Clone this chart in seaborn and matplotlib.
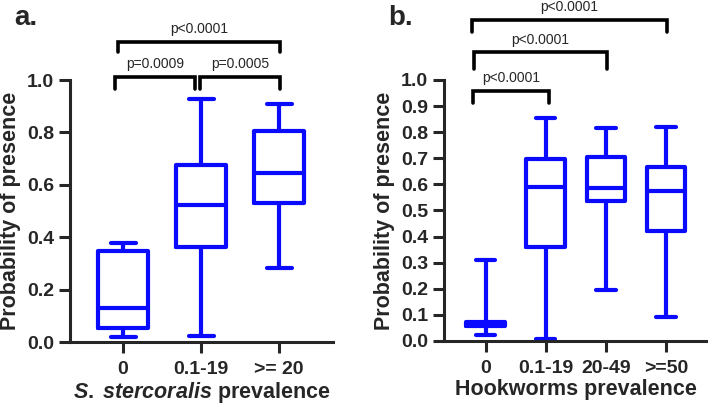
import matplotlib
matplotlib.use("Agg")
import matplotlib.pyplot as plt
import pandas as pd
import seaborn as sns

# summary values (min, q1, median, q3, max per group)
a_groups = ["0", "0.1-19", ">= 20"]
a_min = [0.018, 0.023, 0.281]
a_q1 = [0.055, 0.364, 0.530]
a_median = [0.128, 0.524, 0.644]
a_q3 = [0.347, 0.674, 0.806]
a_max = [0.379, 0.926, 0.908]

b_groups = ["0", "0.1-19", "20-49", ">=50"]
b_min = [0.024, 0.008, 0.195, 0.091]
b_q1 = [0.058, 0.359, 0.537, 0.423]
b_median = [0.065, 0.589, 0.585, 0.576]
b_q3 = [0.072, 0.698, 0.706, 0.668]
b_max = [0.310, 0.855, 0.817, 0.821]

a_pvalues = ["p=0.0009", "p=0.0005", "p<0.0001"]
b_pvalues = ["p<0.0001", "p<0.0001", "p<0.0001"]

BLUE = "#0a0aff"


def to_long(groups, mins, q1s, meds, q3s, maxs):
    # five points per group reproduce the quartiles exactly with whis=(0, 100)
    rows = []
    for g, lo, q1, m, q3, hi in zip(groups, mins, q1s, meds, q3s, maxs):
        for v in (lo, q1, m, q3, hi):
            rows.append({"group": g, "value": v})
    return pd.DataFrame(rows)


def bracket(ax, x0, x1, y, h, text):
    ax.plot([x0, x0, x1, x1], [y - h, y, y, y - h], color="black",
            lw=2.6, clip_on=False, solid_joinstyle="miter")
    ax.text((x0 + x1) / 2, y + 0.022, text, ha="center", va="bottom",
            fontsize=10, clip_on=False)


def style_axes(ax, ylabel, xlabel):
    for s in ["top", "right"]:
        ax.spines[s].set_visible(False)
    for s in ["left", "bottom"]:
        ax.spines[s].set_linewidth(2.2)
    ax.tick_params(axis="both", direction="out", length=8, width=2.2,
                   labelsize=14)
    ax.tick_params(axis="x", pad=6)
    for lab in ax.get_xticklabels() + ax.get_yticklabels():
        lab.set_fontweight("bold")
    ax.set_ylabel(ylabel, fontsize=15.5, fontweight="bold", labelpad=4)
    ax.set_xlabel(xlabel, fontsize=15.5, fontweight="bold", labelpad=1)


sns.set_style("ticks")
plt.rcParams["font.family"] = ["Liberation Sans", "DejaVu Sans"]
plt.rcParams["mathtext.fontset"] = "custom"
plt.rcParams["mathtext.it"] = "Liberation Sans:italic:bold"
plt.rcParams["mathtext.rm"] = "Liberation Sans:bold"

fig = plt.figure(figsize=(7.08, 4.07), dpi=100)
ax1 = fig.add_axes([0.0989, 0.1597, 0.3715, 0.6437])
ax2 = fig.add_axes([0.6271, 0.1622, 0.3715, 0.6413])

df_a = to_long(a_groups, a_min, a_q1, a_median, a_q3, a_max)
df_b = to_long(b_groups, b_min, b_q1, b_median, b_q3, b_max)

sns.boxplot(data=df_a, x="group", y="value", order=a_groups, whis=(0, 100),
            fill=False, color=BLUE, linewidth=3, width=0.64, ax=ax1)
sns.boxplot(data=df_b, x="group", y="value", order=b_groups, whis=(0, 100),
            fill=False, color=BLUE, linewidth=3, width=0.64, ax=ax2)

ax1.set_ylim(0, 1.0)
ax1.set_yticks([0, 0.2, 0.4, 0.6, 0.8, 1.0])
ax1.set_xlim(-0.68, 2.69)
ax2.set_ylim(0, 1.0)
ax2.set_yticks([i / 10 for i in range(11)])
ax2.set_xlim(-0.69, 3.68)

style_axes(ax1, "Probability of presence",
           r"$\it{S.\;stercoralis}$ prevalence")
style_axes(ax2, "Probability of presence", "Hookworms prevalence")

# significance brackets
bracket(ax1, -0.10, 0.92, 1.011, 0.045, a_pvalues[0])
bracket(ax1, 0.99, 2.01, 1.011, 0.045, a_pvalues[1])
bracket(ax1, -0.06, 2.01, 1.146, 0.040, a_pvalues[2])

bracket(ax2, -0.21, 1.05, 0.959, 0.046, b_pvalues[0])
bracket(ax2, -0.19, 2.02, 1.106, 0.064, b_pvalues[1])
bracket(ax2, -0.22, 3.01, 1.230, 0.045, b_pvalues[2])

fig.text(0.020, 0.955, "a.", fontsize=20, fontweight="bold", va="center")
fig.text(0.549, 0.955, "b.", fontsize=20, fontweight="bold", va="center")

fig.savefig("out.png", dpi=100, facecolor="white")
